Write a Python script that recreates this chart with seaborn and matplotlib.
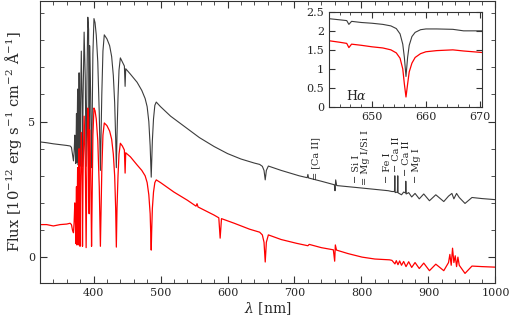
import matplotlib
matplotlib.use('Agg')
import matplotlib.pyplot as plt
from matplotlib.ticker import MultipleLocator, FuncFormatter
import numpy as np
import pandas as pd
import seaborn as sns

# upper (grey) spectrum
grey_wl = [320, 330, 340, 350, 360, 365, 367, 368.5, 370, 371, 372, 372.8, 373.4, 374.0,
           374.5, 375.0, 375.5, 376.2, 376.7, 377.1, 377.6, 378.4, 379.2, 379.8, 380.5,
           381.7, 382.8, 383.5, 384.3, 385.9, 387.6, 388.9, 390.0, 391.4, 392.6, 393.4,
           394.1, 395.5, 396.3, 397.0, 397.8, 399.0, 400.6, 402.2, 404, 406.3, 408.5, 409.5,
           410.2, 411, 412.3, 414, 416, 420, 424, 427, 429.5, 431.5, 433, 434.0, 435, 436.5,
           438, 440, 443, 446, 447.1, 448, 455, 465, 472, 477, 480, 482.5, 484.5, 485.4,
           486.1, 486.8, 487.8, 489.5, 491.5, 493.6, 500, 515, 528, 545, 558, 580, 600, 620,
           640, 648, 652, 654.5, 656.3, 658, 661, 680, 707, 719, 720, 721, 740, 759.5, 760.5,
           761.5, 763, 780, 800, 820, 840, 845.5, 849.3, 849.8, 850.3, 853.7, 854.2, 854.7,
           859.8, 863, 865.8, 866.2, 866.8, 870.5, 875, 880, 886.3, 893, 901.5, 911, 922.9,
           930, 935, 938, 942, 946, 954.6, 965, 980, 1000]
grey_flux = [4.25, 4.22, 4.18, 4.15, 4.12, 4.1, 4.05, 3.8, 3.55, 3.9, 4.5, 4.0, 3.45, 4.4,
             5.3, 3.5, 4.6, 6.2, 5.0, 3.4, 5.0, 6.8, 5.2, 3.35, 5.5,
             7.6, 5.8, 3.35, 5.8, 8.3, 6.6, 3.35, 6.3, 8.85, 8.4, 2.0,
             7.8, 6.2, 4.6, 3.3, 4.8, 7.5, 8.8, 8.65, 8.2, 7.2, 5.3, 4.0,
             3.2, 4.2, 6.0, 7.6, 8.2, 8.05, 7.8, 7.4, 6.7, 5.7, 4.4, 3.3, 4.5, 5.9,
             6.9, 7.35, 7.2, 7.05, 6.3, 6.95, 6.75, 6.45, 6.15, 5.85, 5.55, 5.0, 4.1, 3.4,
             2.95, 3.5, 4.3, 5.1, 5.6, 5.72, 5.55, 5.2, 4.96, 4.65, 4.41, 4.08, 3.82, 3.62,
             3.47, 3.42, 3.35, 3.2, 2.85, 3.2, 3.36, 3.2, 3.0, 2.93, 3.05, 2.92, 2.8, 2.67, 2.45,
             2.85, 2.64, 2.6, 2.55, 2.5, 2.45, 2.42, 2.42, 3.0, 2.38, 2.4, 3.0, 2.37,
             2.3, 2.4, 2.37, 2.8, 2.33, 2.38, 2.22, 2.35, 2.15, 2.33, 2.08, 2.3, 2.05,
             2.25, 2.35, 2.15, 2.35, 2.2, 1.98, 2.2, 2.16, 2.12]

# lower (red) spectrum
red_wl = [320, 330, 340, 350, 360, 365, 367, 368.5, 370, 371, 372, 372.8, 373.4, 374.0,
          374.5, 375.0, 375.5, 376.2, 376.7, 377.1, 377.6, 378.4, 379.2, 379.8, 380.5,
          381.7, 382.8, 383.5, 384.3, 385.9, 387.6, 388.9, 390.0, 391.4, 392.6, 393.4,
          394.1, 395.5, 396.3, 397.0, 397.8, 399.0, 400.6, 402.2, 404, 406.3, 408.5, 409.5,
          410.2, 411, 412.3, 414, 416, 420, 424, 427, 429.5, 431.5, 433, 434.0, 435, 436.5,
          438, 440, 443, 446, 447.1, 448, 455, 465, 472, 477, 480, 482.5, 484.5, 485.4,
          486.1, 486.8, 487.8, 489.5, 491.5, 493.6, 500, 520, 540, 553, 554.5, 556, 580, 587,
          589, 591, 610, 633, 640, 648, 652, 654.5, 656.3, 658, 661, 680, 703, 720, 722, 740,
          758, 760, 761, 762.7, 780, 801, 820, 842, 845.5, 850, 852, 854.5, 857, 859.8, 863,
          866.5, 870.5, 875, 880, 886.3, 893, 901.5, 911, 922.9, 930, 932, 934, 936, 938,
          940, 942, 944, 946, 954.6, 965, 980, 1000]
red_flux = [1.2, 1.2, 1.15, 1.2, 1.22, 1.25, 1.2, 1.0, 0.9, 1.3, 2.0, 1.5, 0.5, 1.6,
            2.6, 0.45, 1.8, 3.3, 2.0, 0.45, 2.0, 4.0, 2.3, 0.4, 2.6,
            4.6, 3.0, 0.4, 3.0, 5.2, 3.6, 0.35, 3.4, 5.5, 5.1, 1.6,
            4.7, 3.4, 2.0, 0.4, 2.0, 4.5, 5.5, 5.4, 5.1, 4.3, 2.6, 1.4,
            0.4, 1.5, 3.2, 4.5, 4.95, 4.85, 4.65, 4.35, 3.8, 3.0, 1.8, 0.37, 1.8, 3.0,
            3.8, 4.2, 4.1, 3.95, 3.1, 3.85, 3.7, 3.4, 3.2, 3.0, 2.75, 2.3, 1.6, 0.9,
            0.26, 1.0, 1.8, 2.4, 2.75, 2.85, 2.75, 2.4, 2.1, 1.88, 1.97, 1.85, 1.55, 1.45,
            0.7, 1.42, 1.25, 1.03, 0.98, 0.92, 0.82, 0.55, -0.18, 0.55, 0.82, 0.65, 0.51, 0.42, 0.47, 0.35,
            0.27, -0.15, 0.45, 0.26, 0.13, 0.0, -0.07, -0.1, -0.12, -0.25, -0.13, -0.28, -0.14, -0.3, -0.16,
            -0.35, -0.17, -0.38, -0.2, -0.42, -0.22, -0.5, -0.26, -0.5, -0.2, 0.1, -0.3, 0.33, -0.2,
            0.05, -0.35, 0.0, -0.3, -0.6, -0.33, -0.35, -0.37]

# inset around H-alpha
ins_grey_wl = [642, 644, 645.3, 645.7, 646.2, 648, 650, 652, 653.5, 654.5, 655.2, 655.7, 656.0,
               656.3, 656.6, 656.9, 657.4, 658, 659, 660, 662, 665, 667, 670.5]
ins_grey_flux = [2.32, 2.29, 2.27, 2.17, 2.25, 2.22, 2.2, 2.17, 2.13, 2.06, 1.92, 1.65, 1.3,
                 0.8, 1.3, 1.62, 1.85, 1.96, 2.03, 2.05, 2.05, 2.04, 2.0, 2.0]
ins_red_wl = [642, 644, 645.3, 645.7, 646.2, 648, 650, 652, 653.5, 654.5, 655.2, 655.7, 656.0,
              656.3, 656.6, 656.9, 657.4, 658, 659, 660, 662, 665, 667, 670.5]
ins_red_flux = [1.74, 1.7, 1.67, 1.56, 1.65, 1.62, 1.58, 1.55, 1.5, 1.42, 1.28, 1.0, 0.6,
                0.26, 0.6, 0.92, 1.15, 1.3, 1.4, 1.45, 1.48, 1.5, 1.47, 1.43]

line_ids = ['= [Ca II]', '\u2212 Si I', '= Mg I/Si I', '\u2212 Fe I', '\u2212 Ca II', '\u2212 Ca II', '\u2212 Mg I']
line_wl = [732, 793, 806, 839.5, 852, 867, 881.5]
line_base = [2.85, 2.75, 2.65, 2.75, 3.15, 3.0, 2.75]

sns.set_style('ticks')
plt.rcParams['font.family'] = ['DejaVu Serif']
plt.rcParams['mathtext.fontset'] = 'dejavuserif'

GREY = '#3c3c3c'
RED = '#ff0000'

fig = plt.figure(figsize=(5.1, 3.2), dpi=100)
ax = fig.add_axes([0.0784, 0.116, 0.893, 0.881])

df_g = pd.DataFrame({'wl': grey_wl, 'flux': grey_flux})
df_r = pd.DataFrame({'wl': red_wl, 'flux': red_flux})
sns.lineplot(data=df_g, x='wl', y='flux', ax=ax, color=GREY, lw=0.8, sort=False, estimator=None)
sns.lineplot(data=df_r, x='wl', y='flux', ax=ax, color=RED, lw=0.9, sort=False, estimator=None)

ax.set_xlim(320, 1000)
ax.set_ylim(-0.95, 9.45)
ax.xaxis.set_major_locator(MultipleLocator(100))
ax.xaxis.set_minor_locator(MultipleLocator(20))
ax.yaxis.set_major_locator(MultipleLocator(5))
ax.yaxis.set_minor_locator(MultipleLocator(1))
ax.tick_params(which='both', direction='in', top=True, right=True, labelsize=8, color='#333333')
ax.tick_params(which='major', length=5)
ax.tick_params(which='minor', length=3)
ax.set_xlabel(r'$\lambda$ [nm]', fontsize=10, labelpad=2)
ax.set_ylabel(r'Flux [10$^{-12}$ erg s$^{-1}$ cm$^{-2}$ $\mathrm{\AA}^{-1}$]', fontsize=10.5, labelpad=3)
for sp in ax.spines.values():
    sp.set_linewidth(0.8)
    sp.set_color('#333333')

for txt, wl, base in zip(line_ids, line_wl, line_base):
    ax.text(wl, base, txt, rotation=90, ha='center', va='bottom', fontsize=7)

ins = fig.add_axes([0.645, 0.666, 0.3, 0.297])
df_ig = pd.DataFrame({'wl': ins_grey_wl, 'flux': ins_grey_flux})
df_ir = pd.DataFrame({'wl': ins_red_wl, 'flux': ins_red_flux})
sns.lineplot(data=df_ig, x='wl', y='flux', ax=ins, color=GREY, lw=0.8, sort=False, estimator=None)
sns.lineplot(data=df_ir, x='wl', y='flux', ax=ins, color=RED, lw=0.9, sort=False, estimator=None)
ins.set_xlim(642, 670.4)
ins.set_ylim(0, 2.5)
ins.xaxis.set_major_locator(MultipleLocator(10))
ins.xaxis.set_minor_locator(MultipleLocator(2))
ins.yaxis.set_major_locator(MultipleLocator(0.5))
ins.yaxis.set_major_formatter(FuncFormatter(lambda v, p: f'{v:g}'))
ins.tick_params(which='both', direction='in', top=True, right=True, labelsize=8, color='#333333')
ins.tick_params(which='major', length=4)
ins.tick_params(which='minor', length=2)
ins.set_xlabel('')
ins.set_ylabel('')
for sp in ins.spines.values():
    sp.set_linewidth(0.8)
    sp.set_color('#333333')
ins.text(645.2, 0.18, r'H$\alpha$', fontsize=9)

fig.savefig('out.png', dpi=100)
